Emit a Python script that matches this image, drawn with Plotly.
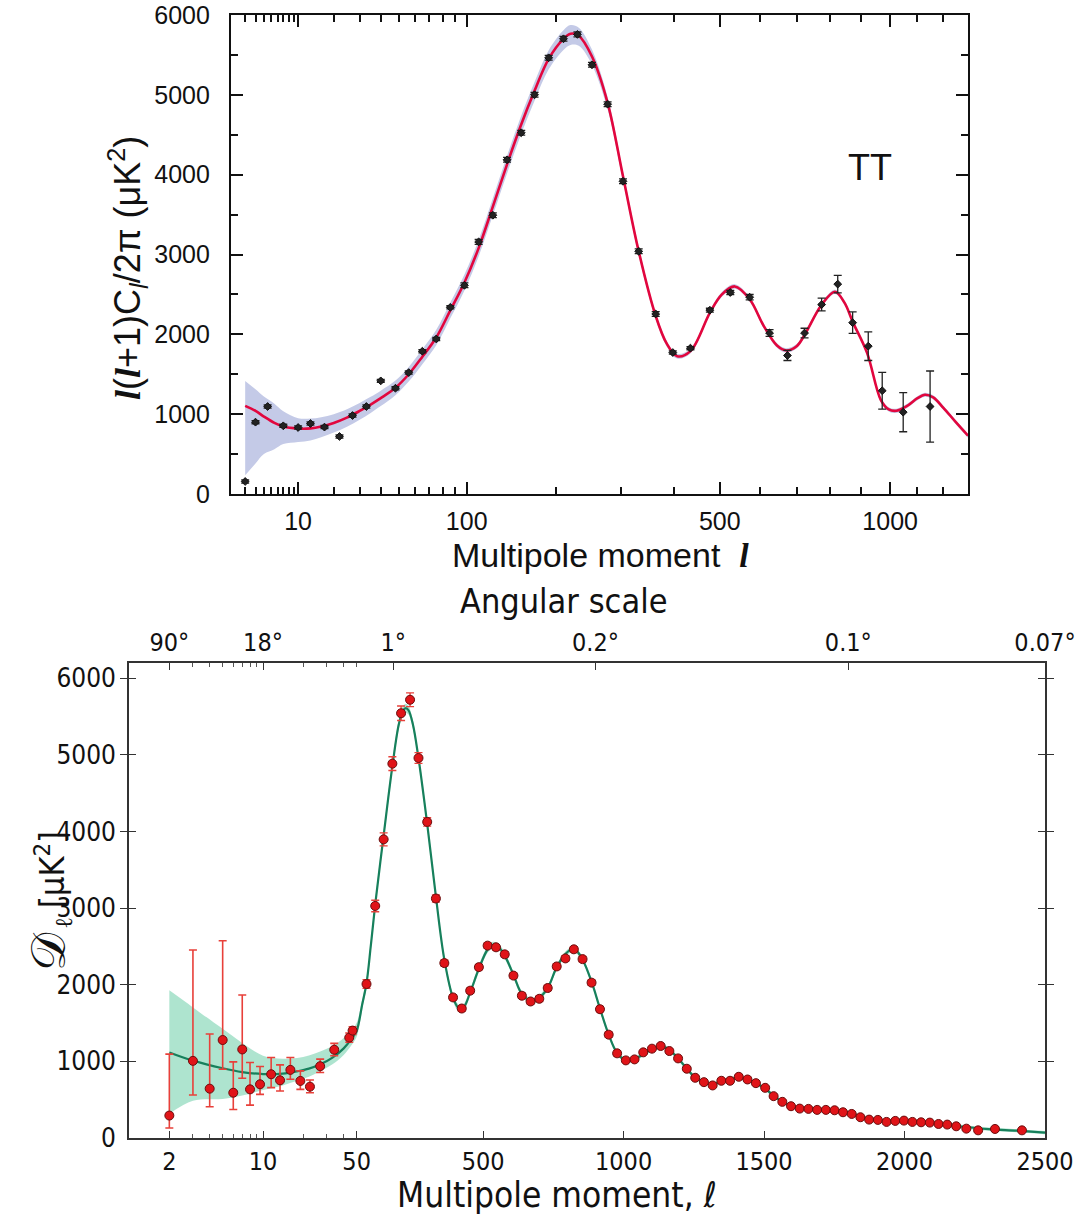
import numpy as np
import plotly.graph_objects as go

# ---------------- DATA : top panel (WMAP TT) ----------------
top_l = [2, 3, 4.5, 7, 10, 13, 17, 22, 27, 33, 40, 48, 56, 65, 75, 86, 98, 111, 125, 140,
         156, 172, 190, 210, 230, 252, 277, 303, 331, 363, 397, 434, 477, 525, 573, 625, 674,
         723, 774, 824, 872, 924, 972, 1047, 1148]
top_D = [157, 900, 1096, 854, 833, 883, 838, 721, 983, 1096, 1417, 1325, 1521, 1788, 1942,
         2338, 2614, 3158, 3492, 4186, 4525, 5001, 5464, 5702, 5757, 5376, 4883, 3917, 3040,
         2255, 1772, 1827, 2302, 2524, 2465, 2016, 1735, 2016, 2373, 2629, 2146, 1852, 1294,
         1025, 1096]
top_err = [20] * 16 + [30] * 14 + [20, 20, 25, 25, 34, 42, 63, 60, 80, 110, 135, 180, 230, 245, 445]

top_model_l = [2, 3, 4, 5.5, 7, 10, 13, 16, 20, 25, 30, 35, 40, 48, 56, 65, 75, 86, 98, 111,
               125, 140, 155, 172, 190, 210, 220, 232, 252, 277, 303, 331, 363, 385, 406, 434,
               477, 505, 536, 573, 610, 645, 671, 700, 724, 774, 815, 845, 873, 920, 967, 995,
               1022, 1060, 1100, 1128, 1160, 1200, 1250, 1300]
top_model_D = [1104, 1042, 970, 890, 845, 820, 822, 845, 890, 960, 1040, 1120, 1200, 1330, 1500,
               1720, 1960, 2300, 2650, 3080, 3600, 4130, 4600, 5050, 5450, 5700, 5765, 5740, 5480,
               4900, 3980, 3040, 2230, 1880, 1726, 1790, 2270, 2500, 2600, 2440, 2100, 1860, 1798,
               1850, 2000, 2370, 2533, 2400, 2150, 1768, 1180, 1060, 1042, 1100, 1200, 1243, 1210,
               1080, 900, 731]
top_band_l = [2, 3, 4, 5.5, 7, 10, 15, 20, 30, 50, 100, 160, 220, 300, 400, 1300]
top_band_up = [313, 270, 250, 240, 190, 130, 120, 110, 100, 90, 100, 110, 110, 60, 30, 25]
top_band_dn = [870, 660, 470, 330, 220, 170, 140, 120, 110, 90, 100, 120, 140, 60, 30, 25]

top_major_ticks = [10, 100, 500, 1000]
top_minor_ticks = [2, 3, 4, 5, 6, 7, 8, 9, 20, 30, 40, 50, 60, 70, 80, 90,
                   200, 300, 400, 600, 700, 800, 900, 1100, 1200]

# ---------------- DATA : bottom panel (Planck) ----------------
low_l = [2, 3, 4, 5, 6, 7, 8, 9.5, 11.5, 13.4, 16, 19, 22.4, 26.7, 34, 44, 46.6]
low_D = [293, 1007, 644, 1279, 591, 1156, 635, 701, 832, 753, 889, 745, 670, 937, 1152, 1310, 1402]
low_up = [802, 1446, 714, 1296, 403, 710, 350, 232, 219, 202, 162, 131, 88, 92, 83, 60, 50]
low_dn = [162, 446, 237, 381, 219, 376, 206, 132, 175, 140, 123, 110, 79, 83, 79, 60, 50]

hi_l = [85, 116, 146, 177, 208, 240, 270, 301, 332, 362, 393, 424, 454, 485, 516, 546, 577, 608,
        638, 669, 700, 730, 762, 793, 823, 854, 886, 916, 947, 977, 1008, 1039, 1070, 1101, 1132,
        1163, 1194, 1225, 1255, 1286, 1317, 1348, 1379, 1410, 1441, 1471, 1504, 1534, 1565, 1596,
        1627, 1658, 1689, 1720, 1751, 1781, 1812, 1843, 1874, 1905, 1936, 1967, 1998, 2028, 2059,
        2090, 2121, 2152, 2184, 2220, 2262, 2322, 2418]
hi_D = [2010, 3029, 3898, 4886, 5544, 5720, 4960, 4126, 3126, 2283, 1835, 1690, 1923, 2230, 2511,
        2489, 2397, 2120, 1857, 1782, 1817, 1958, 2239, 2344, 2463, 2335, 2028, 1681, 1349, 1105,
        1013, 1026, 1118, 1166, 1201, 1135, 1039, 904, 786, 729, 686, 747, 747, 799, 764, 716, 655,
        546, 472, 415, 384, 380, 367, 367, 362, 336, 314, 271, 240, 236, 210, 223, 227, 210, 205,
        201, 183, 175, 153, 122, 100, 118, 100]
hi_err = [55, 75, 85, 90, 95, 90, 70, 55, 45, 40] + [35] * 20 + [20] * 43

bot_model_l = [2, 3, 5, 7, 10, 14, 18, 22, 27, 33, 40, 46, 50, 70, 85, 100, 116, 146, 177, 200,
               215, 225, 235, 250, 270, 301, 332, 362, 393, 415, 430, 454, 485, 516, 535, 555, 577,
               608, 638, 669, 690, 730, 762, 793, 815, 830, 854, 886, 916, 947, 977, 1008, 1030,
               1055, 1101, 1132, 1150, 1163, 1194, 1225, 1255, 1286, 1317, 1348, 1379, 1410, 1441,
               1471, 1504, 1534, 1565, 1596, 1627, 1700, 1751, 1812, 1874, 1936, 2000, 2100, 2200,
               2300, 2400, 2500]
bot_model_D = [1117, 1010, 910, 860, 835, 840, 870, 905, 965, 1050, 1170, 1300, 1400, 1750, 2020,
               2500, 3050, 3950, 4850, 5400, 5580, 5610, 5580, 5400, 4960, 4100, 3150, 2330, 1830,
               1690, 1700, 1900, 2210, 2460, 2520, 2490, 2380, 2130, 1880, 1790, 1800, 1960, 2230,
               2400, 2460, 2450, 2330, 2040, 1690, 1350, 1110, 1015, 1020, 1060, 1160, 1190, 1180,
               1150, 1040, 905, 790, 730, 705, 735, 765, 790, 765, 715, 645, 550, 475, 420, 390,
               370, 360, 320, 250, 222, 220, 195, 150, 115, 95, 70]
bot_band_l = [2, 3, 5, 7, 9, 10, 16, 27, 42, 50, 60, 200, 1000, 2500]
bot_band_up = [810, 695, 515, 380, 255, 240, 176, 167, 131, 105, 60, 60, 30, 20]
bot_band_dn = [802, 525, 400, 306, 227, 210, 131, 90, 85, 80, 60, 60, 30, 20]

bot_x_major = [2, 10, 50, 500, 1000, 1500, 2000, 2500]
bot_x_minor = [3, 4, 5, 6, 7, 8, 9, 20, 30, 40]
ang_l = [2, 10, 180, 900, 1800, 2500]
ang_text = ["90°", "18°", "1°", "0.2°", "0.1°", "0.07°"]
ang_minor = [3, 4, 5, 6, 7, 8, 9, 20, 30, 40, 50]

# ---------------- axis scales ----------------
P_TOP = 0.4          # top panel: x axis linear in l^0.4


def u_top(l):
    return np.asarray(l, float) ** P_TOP


K_LOG = 477.0        # bottom panel: log below l=50, linear above


def v_bot(l):
    l = np.asarray(l, float)
    return np.where(l >= 50, l, 50 + K_LOG * np.log10(np.maximum(l, 1e-9) / 50.0))


W, H = 1081, 1219
def px(x):
    return x / W
def py(y):
    return 1 - y / H

TOPFONT = "Liberation Sans, Arial, sans-serif"
BOTFONT = "Liberation Sans Narrow, DejaVu Sans Condensed, Roboto, sans-serif"

fig = go.Figure()

# ---- top panel band + curve + points
tml = np.array(top_model_l, float)
tmd = np.array(top_model_D, float)
lt = np.log10(tml)
up = np.interp(lt, np.log10(top_band_l), top_band_up)
dn = np.interp(lt, np.log10(top_band_l), top_band_dn)
fig.add_trace(go.Scatter(x=u_top(tml), y=tmd - dn, mode="lines", line=dict(width=0, shape="spline"),
                         xaxis="x", yaxis="y", showlegend=False, hoverinfo="skip"))
fig.add_trace(go.Scatter(x=u_top(tml), y=tmd + up, mode="lines", line=dict(width=0, shape="spline"),
                         fill="tonexty", fillcolor="#c4cae7", xaxis="x", yaxis="y",
                         showlegend=False, hoverinfo="skip"))
fig.add_trace(go.Scatter(x=u_top(tml), y=tmd, mode="lines",
                         line=dict(color="#e2063e", width=2.6, shape="spline"),
                         xaxis="x", yaxis="y", showlegend=False))
fig.add_trace(go.Scatter(x=u_top(top_l), y=top_D, mode="markers",
                         marker=dict(symbol="diamond", size=6, color="#222222",
                                     line=dict(color="#111111", width=1)),
                         error_y=dict(type="data", array=top_err, color="#222222",
                                      thickness=1.3, width=4),
                         xaxis="x", yaxis="y", showlegend=False))

# ---- bottom panel band + curve + points
bml = np.array(bot_model_l, float)
bmd = np.array(bot_model_D, float)
lb = np.log10(bml)
bup = np.interp(lb, np.log10(bot_band_l), bot_band_up)
bdn = np.interp(lb, np.log10(bot_band_l), bot_band_dn)
fig.add_trace(go.Scatter(x=v_bot(bml), y=bmd - bdn, mode="lines", line=dict(width=0, shape="spline"),
                         xaxis="x2", yaxis="y2", showlegend=False, hoverinfo="skip"))
fig.add_trace(go.Scatter(x=v_bot(bml), y=bmd + bup, mode="lines", line=dict(width=0, shape="spline"),
                         fill="tonexty", fillcolor="rgba(120,210,175,0.6)", xaxis="x2", yaxis="y2",
                         showlegend=False, hoverinfo="skip"))
fig.add_trace(go.Scatter(x=v_bot(bml), y=bmd, mode="lines",
                         line=dict(color="#17805c", width=2.2, shape="spline"),
                         xaxis="x2", yaxis="y2", showlegend=False))
fig.add_trace(go.Scatter(x=v_bot(low_l), y=low_D, mode="markers",
                         marker=dict(symbol="circle", size=9, color="#e01418",
                                     line=dict(color="#6a0d0d", width=1)),
                         error_y=dict(type="data", symmetric=False, array=low_up, arrayminus=low_dn,
                                      color="#e8403a", thickness=1.6, width=4),
                         xaxis="x2", yaxis="y2", showlegend=False))
fig.add_trace(go.Scatter(x=v_bot(hi_l), y=hi_D, mode="markers",
                         marker=dict(symbol="circle", size=9, color="#e01418",
                                     line=dict(color="#6a0d0d", width=1)),
                         error_y=dict(type="data", array=hi_err, color="#e8403a",
                                      thickness=1.4, width=4),
                         xaxis="x2", yaxis="y2", showlegend=False))
# invisible trace to activate the angular-scale axis
fig.add_trace(go.Scatter(x=v_bot([2500]), y=[0], mode="markers", marker=dict(opacity=0),
                         xaxis="x3", yaxis="y2", showlegend=False, hoverinfo="skip"))

top_dom_x = [px(231), px(968)]
top_dom_y = [py(494), py(15)]
bot_dom_x = [px(129), px(1045)]
bot_dom_y = [py(1138), py(663)]

fig.update_layout(
    width=W, height=H, margin=dict(l=0, r=0, t=0, b=0, autoexpand=False),
    paper_bgcolor="white", plot_bgcolor="white",
    xaxis=dict(domain=top_dom_x, anchor="y", range=[1.0, 1300 ** P_TOP], automargin=False,
               showline=True, linecolor="#111", linewidth=2.2, mirror="allticks",
               ticks="inside", ticklen=12, tickwidth=2, tickcolor="#111",
               tickmode="array", tickvals=u_top(top_major_ticks).tolist(),
               ticktext=[str(t) for t in top_major_ticks],
               minor=dict(tickmode="array", tickvals=u_top(top_minor_ticks).tolist(),
                          ticks="inside", ticklen=7, tickwidth=2, tickcolor="#111"),
               tickfont=dict(family=TOPFONT, size=25, color="#111"), ticklabelstandoff=4,
               showgrid=False, zeroline=False),
    yaxis=dict(domain=top_dom_y, anchor="x", range=[0, 6000], automargin=False,
               showline=True, linecolor="#111", linewidth=2.2, mirror="allticks",
               ticks="inside", ticklen=12, tickwidth=2, tickcolor="#111",
               tickmode="linear", tick0=0, dtick=1000,
               minor=dict(dtick=500, tick0=0, ticks="inside", ticklen=7, tickwidth=2, tickcolor="#111"),
               tickfont=dict(family=TOPFONT, size=25, color="#111"), ticklabelstandoff=14,
               showgrid=False, zeroline=False),
    xaxis2=dict(domain=bot_dom_x, anchor="y2", range=[float(v_bot(1)), 2500], automargin=False,
                showline=True, linecolor="#333", linewidth=1.6,
                ticks="inside", ticklen=7, tickwidth=1.2, tickcolor="#333",
                tickmode="array", tickvals=v_bot(bot_x_major).tolist(),
                ticktext=[str(t) for t in bot_x_major],
                minor=dict(tickmode="array", tickvals=v_bot(bot_x_minor).tolist(),
                           ticks="inside", ticklen=4, tickwidth=1, tickcolor="#555"),
                tickfont=dict(family=BOTFONT, size=25, color="#111"), ticklabelstandoff=0,
                showgrid=False, zeroline=False),
    xaxis3=dict(overlaying="x2", anchor="y2", side="top", range=[float(v_bot(1)), 2500],
                automargin=False,
                showline=True, linecolor="#333", linewidth=1.6,
                ticks="inside", ticklen=7, tickwidth=1.2, tickcolor="#333",
                tickmode="array", tickvals=v_bot(ang_l).tolist(), ticktext=ang_text,
                minor=dict(tickmode="array", tickvals=v_bot(ang_minor).tolist(),
                           ticks="inside", ticklen=4, tickwidth=1, tickcolor="#555"),
                tickfont=dict(family=BOTFONT, size=25, color="#111"), ticklabelstandoff=0,
                showgrid=False, zeroline=False),
    yaxis2=dict(domain=bot_dom_y, anchor="x2", range=[0, 6200], automargin=False,
                showline=True, linecolor="#333", linewidth=1.6, mirror="allticks",
                ticks="inside", ticklen=7, tickwidth=1.2, tickcolor="#333",
                tickmode="array", tickvals=[0, 1000, 2000, 3000, 4000, 5000, 6000],
                tickfont=dict(family=BOTFONT, size=26, color="#111"), ticklabelstandoff=6,
                showgrid=False, zeroline=False),
)

L_SPAN = '<span style="font-family:Liberation Serif,serif"><b><i>l</i></b></span>'
annots = [
    dict(text="Multipole moment  " + L_SPAN, x=px(600), y=py(555),
         font=dict(family=TOPFONT, size=34, color="#111")),
    dict(text=L_SPAN + "(" + L_SPAN + "+1)C<sub><i>l</i></sub>/2π (μK<sup>2</sup>)",
         x=px(128), y=py(268), textangle=-90,
         font=dict(family=TOPFONT, size=36, color="#111")),
    dict(text="TT", x=px(870), y=py(168), font=dict(family=TOPFONT, size=36, color="#111")),
    dict(text="Angular scale", x=px(563), y=py(601),
         font=dict(family=BOTFONT, size=34, color="#111")),
    dict(text="Multipole moment, <i>ℓ</i>", x=px(557), y=py(1195),
         font=dict(family=BOTFONT, size=35, color="#111")),
    # y-axis title of the bottom panel: 𝒟_ℓ [μK²]
    dict(text="𝒟", x=px(48), y=py(952), textangle=-90,
         font=dict(family="DejaVu Serif, serif", size=48, color="#111")),
    dict(text="ℓ", x=px(64), y=py(923), textangle=-90,
         font=dict(family="DejaVu Serif, serif", size=24, color="#111")),
    dict(text="[μK<sup>2</sup>]", x=px(50), y=py(870), textangle=-90,
         font=dict(family=BOTFONT, size=34, color="#111")),
]
for a in annots:
    a.update(xref="paper", yref="paper", showarrow=False, xanchor="center", yanchor="middle")
fig.update_layout(annotations=annots)

fig.write_html("out.html")
